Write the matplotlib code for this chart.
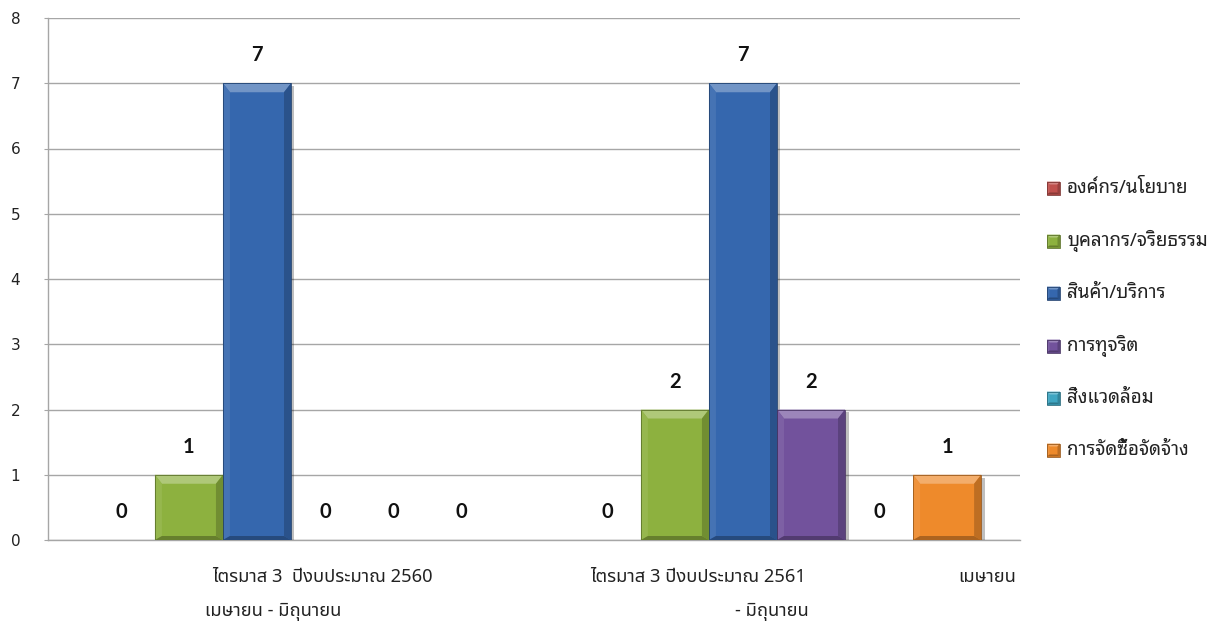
import matplotlib
matplotlib.use("Agg")
import matplotlib.pyplot as plt
import numpy as np
from matplotlib.patches import Polygon
from matplotlib import patheffects as pe
from matplotlib.colors import to_rgb

# ---- data ---------------------------------------------------------------
series_names = ["องค์กร/นโยบาย", "บุคลากร/จริยธรรม", "สินค้า/บริการ",
                "การทุจริต", "สิ่งแวดล้อม", "การจัดซื้อจัดจ้าง"]
org_policy = [0, 0]
personnel_ethics = [1, 2]
products_services = [7, 7]
corruption = [0, 2]
environment = [0, 0]
procurement = [0, 1]
series_values = [org_policy, personnel_ethics, products_services,
                 corruption, environment, procurement]
series_colors = ["#C0504D", "#8DB13F", "#3567AE", "#72529C", "#3FA6C2", "#EE8A2B"]

# category labels, written as they wrap under the axis
period_label_lines = [
    ["ไตรมาส 3  ปีงบประมาณ 2560", "เมษายน - มิถุนายน"],
    ["ไตรมาส 3 ปีงบประมาณ 2561", "เมษายน", "- มิถุนายน"],
]
y_ticks = list(range(0, 9))

W, H = 1220, 624
THAI = ["Noto Sans Thai", "DejaVu Sans"]
THAI_LOOPED = ["Noto Sans Thai Looped", "DejaVu Sans"]
GRID = "#A6A6A6"

fig = plt.figure(figsize=(W / 100, H / 100), dpi=100)
ax = fig.add_axes([48 / W, 84 / H, 972 / W, 522 / H])
ax.set_xlim(-0.5, 1.5)
ax.set_ylim(0, 8)

n_series = len(series_values)
bar_w = 0.14
x_cat = np.arange(len(series_values[0]))


def shade(c, f):
    c = np.array(to_rgb(c))
    return tuple(np.clip(c + (1 - c) * f, 0, 1)) if f >= 0 else tuple(np.clip(c * (1 + f), 0, 1))


def bevel(target, x0, x1, y0, y1, color, bx, bt, bb, transform, z, shadow=True):
    """Draw a bevelled box: flat face with lit top/left and shaded right/bottom."""
    ix0, ix1, iy0, iy1 = x0 + bx, x1 - bx, y0 + bb, y1 - bt
    faces = [
        ([(x0, y0), (x1, y0), (x1, y1), (x0, y1)], shade(color, 0.0)),
        ([(x0, y1), (x1, y1), (ix1, iy1), (ix0, iy1)], shade(color, 0.30)),
        ([(x0, y0), (x0, y1), (ix0, iy1), (ix0, iy0)], shade(color, 0.08)),
        ([(x1, y0), (x1, y1), (ix1, iy1), (ix1, iy0)], shade(color, -0.20)),
        ([(x0, y0), (x1, y0), (ix1, iy0), (ix0, iy0)], shade(color, -0.28)),
    ]
    for i, (pts, col) in enumerate(faces):
        p = Polygon(pts, closed=True, facecolor=col, edgecolor="none",
                    transform=transform, zorder=z + i * 0.01)
        if i == 0 and shadow:
            p.set_path_effects([pe.SimplePatchShadow(offset=(2.5, -2), shadow_rgbFace="#000000", alpha=0.25),
                                pe.Normal()])
        target.add_artist(p) if target is fig else target.add_patch(p)
    edge = Polygon([(x0, y0), (x1, y0), (x1, y1), (x0, y1)], closed=True, facecolor="none",
                   edgecolor=shade(color, -0.35), linewidth=0.6, transform=transform, zorder=z + 0.1)
    target.add_artist(edge) if target is fig else target.add_patch(edge)


# grid and axes frame
ax.set_yticks(y_ticks)
ax.yaxis.grid(True, color=GRID, linewidth=1.0)
ax.set_axisbelow(True)
for s in ["top", "right"]:
    ax.spines[s].set_visible(False)
for s in ["left", "bottom"]:
    ax.spines[s].set_color(GRID)
    ax.spines[s].set_linewidth(1.0)
ax.tick_params(axis="y", length=3, color=GRID, pad=17, labelsize=11, labelcolor="#222222")
ax.tick_params(axis="x", length=0, labelbottom=False)
for lab in ax.get_yticklabels():
    lab.set_family("DejaVu Sans")

# bevel sizes expressed in data units from pixel sizes
px_x = (ax.transData.transform((1, 0))[0] - ax.transData.transform((0, 0))[0])
px_y = (ax.transData.transform((0, 1))[1] - ax.transData.transform((0, 0))[1])

for i, (vals, col) in enumerate(zip(series_values, series_colors)):
    offs = x_cat + (i - (n_series - 1) / 2) * bar_w
    bars = ax.bar(offs, vals, width=bar_w, color=col, linewidth=0, zorder=2)
    for rect, v in zip(bars, vals):
        x0 = rect.get_x()
        x1 = x0 + rect.get_width()
        if v > 0:
            rect.set_visible(False)
            bevel(ax, x0, x1, 0, v, col, 7 / px_x, 9 / px_y, 4 / px_y, ax.transData, 3)
        ax.annotate(f"{v}", xy=(x0 + bar_w / 2, v), xytext=(0, 28), textcoords="offset pixels",
                    ha="center", va="center", fontsize=14.5, fontweight="bold",
                    family=["Lato", "DejaVu Sans"], color="#111111", zorder=6)

# category labels below the axis
label_pos = [
    [(212, 577), (205, 612)],
    [(590, 577), (958, 577), (735, 612)],
]
for lines, poss in zip(period_label_lines, label_pos):
    for txt, (px, py) in zip(lines, poss):
        fig.text(px / W, 1 - py / H, txt, ha="left", va="center", fontsize=13.2,
                 family=THAI, color="#222222")

# legend on the right
row_y = [188, 241, 293, 346, 398, 450]
for name, col, py in zip(series_names, series_colors, row_y):
    x0, x1 = 1047 / W, 1060 / W
    y0, y1 = 1 - (py + 6.5) / H, 1 - (py - 6.5) / H
    bevel(fig, x0, x1, y0, y1, col, 2.5 / W, 3 / H, 2 / H, fig.transFigure, 3, shadow=False)
    fig.text(1067 / W, 1 - py / H, name, ha="left", va="center", fontsize=13.5,
             family=THAI_LOOPED, color="#222222")

fig.savefig("out.png", dpi=100)
